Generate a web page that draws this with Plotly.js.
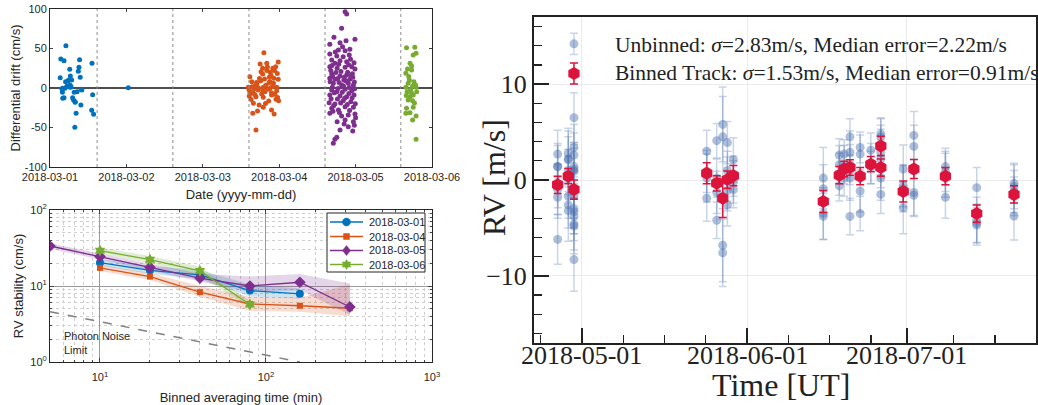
<!DOCTYPE html>
<html><head><meta charset="utf-8">
<script src="https://cdn.plot.ly/plotly-3.0.1.min.js"></script>
<style>body{margin:0;background:#fff}#chart{width:1038px;height:405px}</style>
</head><body><div id="chart"></div>
<script>
// ---------- Panel A: differential drift (hours since 2018-03-01 00:00, cm/s) ----------
const driftStart = Date.UTC(2018, 2, 1);
const night0301H = [5.0,3.4,4.4,9.3,13.2,9.1,8.9,6.2,6.4,3.2,9.5,4.9,5.7,6.8,5.3,6.2,6.6,4.7,3.9,10.0,3.9,7.6,8.5,13.4,4.4,7.1,7.4,7.9,9.7,13.1,13.7,8.2,7.8,3.8,4.0,6.3,6.5,9.8,7.9,5.9,24.6];
const night0301V = [53.6,36.7,34.6,35.8,31.2,26.2,21.1,23.7,15.2,13.0,13.5,8.0,9.2,10.1,2.2,3.8,1.3,-0.4,-0.4,-2.5,-5.5,-5.5,-4.7,-8.5,-12.2,-12.2,-15.2,-18.1,-21.5,-28.2,-33.3,-32.0,-49.7,-1.6,-13.0,0.9,2.5,-1.6,-17.3,10.0,0.3];
const night0304H = [67.2,66.0,68.1,71.7,66.8,70.0,70.5,68.1,62.8,66.8,68.9,71.7,63.4,66.2,69.1,70.2,62.3,64.4,67.0,69.1,71.2,62.8,63.9,65.4,67.5,69.6,71.2,62.6,64.7,67.0,71.0,69.6,63.9,65.7,67.0,63.7,69.6,70.4,64.7,
  65.0,65.8,66.5,67.8,68.5,69.4,70.6,71.4,64.1,63.2,66.3,68.7,70.9,62.5,64.9,67.4,69.9,71.5,65.2,68.3,63.5,66.9,70.3,71.8,64.4,67.7,69.2,62.9,65.5,68.8];
const night0304V = [44.7,30.4,31.3,32.9,25.0,25.0,22.0,22.0,14.3,17.7,13.5,11.0,8.0,9.2,8.0,5.9,0.9,2.5,0.9,-0.4,0.9,-4.7,-6.7,-2.5,-4.7,-5.9,-3.4,-10.1,-11.0,-11.8,-14.3,-8.9,-19.4,-21.5,-24.4,-32.0,-27.8,-32.9,-53.2,
  5.0,12.0,-7.5,3.5,-1.5,16.0,-8.0,18.5,-1.0,-14.5,20.5,-16.5,27.0,-2.0,7.0,11.5,2.0,-12.0,-29.0,26.5,1.5,-3.5,12.5,-16.0,-8.5,-19.5,20.0,-6.5,0.0,6.5];
const night0305H = [92.7,93.2,91.6,89.2,95.8,91.1,93.0,87.9,91.9,90.6,92.7,94.2,87.9,90.1,92.1,94.0,88.5,91.1,93.2,95.5,89.5,87.9,90.2,92.7,94.8,95.8,88.5,91.1,93.2,95.1,89.5,87.9,92.3,94.2,89.0,91.6,93.7,95.3,88.5,90.1,92.7,94.8,87.9,91.1,93.2,95.5,87.7,89.5,92.1,94.5,88.5,90.6,92.7,95.3,87.9,91.6,93.7,95.8,90.2,92.7,95.3,91.1,95.1,93.7,90.1,89.5,89.0,
  88.2,89.8,91.4,93.5,95.0,88.8,90.4,92.5,94.6,88.0,90.8,93.0,95.6,88.7,90.5,92.2,94.0,95.7,89.3,91.8,93.9,88.3,90.3,92.6,94.9,89.1,91.3,93.4,95.9,88.9,90.9,94.1,96.0,92.4,95.6,88.6,90.7,93.8,89.6,94.4];
const night0305V = [96.6,93.7,75.5,64.1,61.6,57.4,59.9,55.3,52.3,48.1,47.2,49.0,43.0,40.5,39.6,41.8,35.4,34.6,33.3,32.0,31.2,27.0,25.0,26.2,27.0,24.0,17.7,15.2,16.5,13.5,11.0,12.3,10.1,11.0,5.9,3.8,5.9,3.8,-2.5,-4.7,-1.6,-3.4,-8.9,-10.1,-11.0,-8.9,-18.6,-20.3,-16.1,-17.3,-25.7,-27.8,-23.7,-24.4,-32.0,-35.4,-34.2,-32.9,-42.7,-40.5,-42.7,-53.2,-54.4,-49.0,-62.4,-64.9,-70.0,
  22.0,19.5,21.0,20.0,18.0,14.5,12.0,14.0,15.5,8.0,7.0,9.0,7.5,1.0,-0.5,2.5,0.5,-1.0,-6.0,-5.5,-7.0,-13.5,-14.0,-13.0,-12.5,-22.5,-19.0,-21.0,-20.0,-29.5,-31.0,-28.5,-37.5,-45.5,-47.0,28.5,30.0,29.5,45.5,36.5];
const night0306H = [112.0,114.6,115.0,114.1,113.1,113.6,111.8,113.6,112.9,114.3,112.5,111.8,113.9,115.0,112.2,113.6,115.2,113.1,114.1,112.5,113.9,112.0,114.1,111.8,113.1,115.0,113.9,115.0,112.7,114.8,113.3,112.3,114.5,111.9];
const night0306V = [51.0,51.5,43.9,41.8,31.2,27.8,18.6,22.8,10.1,8.0,5.9,0.9,2.5,0.9,-4.7,-6.7,-4.7,-11.0,-8.9,-15.2,-16.1,-25.7,-24.4,-32.0,-31.2,-35.4,-40.5,-64.9,14.5,4.0,-2.0,24.0,-19.0,-9.5];
const nightBoundaryH = [14.8, 38.6, 62.5, 86.4, 110.2];
const driftTicks = ['2018-03-01','2018-03-02','2018-03-03','2018-03-04','2018-03-05','2018-03-06'];
const driftYTicks = [-100,-50,0,50,100];

// ---------- Panel B: RV stability vs binning (min, cm/s) ----------
const binT_0301 = [10,20,40,80,160];
const stab_0301 = [20.3,16.1,14.0,8.7,7.9];
const lo_0301 = [18.5,14.5,12.3,7.3,6.8];
const hi_0301 = [22.5,18.3,16.2,10.5,9.3];
const binT_0304 = [10,20,40,80,160,320];
const stab_0304 = [17.3,13.3,8.3,5.8,5.5,5.1];
const lo_0304 = [15.8,12.0,7.2,4.7,4.6,4.0];
const hi_0304 = [19.0,14.8,10.0,7.2,7.0,10.5];
const binT_0305 = [5,10,20,40,80,160,320];
const stab_0305 = [33.6,24.4,17.6,12.7,10.0,11.2,5.3];
const lo_0305 = [31.0,22.2,16.0,11.5,8.3,8.8,4.2];
const hi_0305 = [36.5,27.0,19.8,14.5,13.3,14.4,10.8];
const binT_0306 = [10,20,40,80];
const stab_0306 = [29.2,22.2,15.8,5.7];
const lo_0306 = [26.8,20.0,13.5,5.2];
const hi_0306 = [32.0,24.8,18.0,6.4];
const seriesNames = ['2018-03-01','2018-03-04','2018-03-05','2018-03-06'];
const photonT = [5, 160];
const photonV = [4.6, 1.0];

// ---------- Panel C: RV time series (m/s) ----------
const nightTimes = ['2018-04-26 10:30','2018-04-28 10:30','2018-04-29 12:00','2018-05-24 10:00','2018-05-26 07:00','2018-05-27 10:00','2018-05-28 07:00','2018-05-29 10:00',
  '2018-06-15 07:00','2018-06-18 07:00','2018-06-19 05:00','2018-06-20 07:00','2018-06-22 05:00','2018-06-24 05:00','2018-06-26 02:00','2018-06-30 07:00','2018-07-02 07:00','2018-07-08 05:00','2018-07-14 02:00','2018-07-21 02:00'];
const unbinnedRV = [
  [2.7,1.4,1.4,-0.6,-1.0,-1.8,-6.2],
  [2.8,2.2,2.1,1.0,0.5,-1.7,-2.6,-3.2],
  [14.2,6.5,3.4,2.6,1.4,1.1,0.9,-1.6,-3.0,-3.3,-3.8,-4.6,-4.8,-8.3],
  [3.0,0.9,0.2,-1.9],
  [4.1,0.2,-1.3,-4.2],
  [5.8,4.5,-6.8,-7.6],
  [3.9,1.0,0.1,-1.1,-2.6],
  [2.1,0.4,-0.2,-1.0],
  [0.2,-0.9,-3.5,-3.8],
  [2.6,1.6,0.6,-0.6],
  [2.7,1.6,0.2],
  [4.5,2.9,1.6,0.2,-3.8],
  [3.4,2.7,-1.15,-3.5],
  [3.1,1.7,1.3],
  [4.8,4.5,3.5,2.9,2.2,1.3,0.2,-1.5],
  [1.15,-0.6,-0.9,-2.9],
  [4.65,3.5,-1.3,-1.6],
  [1.4,0.9,0.5,-1.8],
  [-0.8,-4.2,-4.5,-4.7],
  [-0.35,-0.7,-1.2,-1.7,-3.75]];
const unbinnedErr = [
  [2.5,2.4,2.2,2.3,2.6,2.2,2.6],
  [2.6,2.9,2.4,2.2,2.0,2.3,2.4,3.2],
  [1.1,2.6,2.4,2.3,2.5,2.2,2.8,2.4,2.6,2.3,2.5,2.7,2.9,3.3],
  [2.2,2.2,2.5,2.4],
  [1.8,2.0,2.2,1.9],
  [3.9,4.2,3.8,3.5],
  [2.2,2.0,2.3,2.1,2.2],
  [2.3,2.1,2.2,1.9],
  [3.2,2.5,2.7,2.4],
  [1.7,2.0,2.2,1.6],
  [1.5,2.0,1.9],
  [1.9,2.2,2.1,2.3,1.9],
  [1.6,2.0,2.2,1.8],
  [1.8,2.1,1.7],
  [1.6,2.0,2.2,2.4,2.0,2.1,2.3,2.0],
  [2.5,2.2,2.4,2.7],
  [2.5,2.2,2.4,2.2],
  [1.9,2.1,2.3,2.2],
  [2.1,2.4,2.0,2.1],
  [2.1,2.3,2.2,2.0,2.5]];
const binnedTimes = ['2018-04-26 10:30','2018-04-28 10:30','2018-04-29 12:00','2018-04-29 12:00','2018-05-24 10:00','2018-05-26 07:00','2018-05-27 10:00','2018-05-28 07:00','2018-05-29 10:00',
  '2018-06-15 07:00','2018-06-18 07:00','2018-06-19 05:00','2018-06-20 07:00','2018-06-22 05:00','2018-06-24 05:00','2018-06-26 02:00','2018-06-26 02:00','2018-06-30 07:00','2018-07-02 07:00','2018-07-08 05:00','2018-07-14 02:00','2018-07-21 02:00'];
const binnedRV = [-0.5,0.4,11.1,-1.0,0.7,-0.35,-1.9,0.05,0.45,-2.25,0.5,1.15,1.3,0.4,1.65,3.55,1.3,-1.2,1.15,0.4,-3.5,-1.5];
const binnedErr = [0.9,0.8,1.1,1.0,1.1,0.8,2.0,0.9,1.05,1.15,0.9,0.8,0.8,0.9,0.8,1.0,0.9,1.1,1.0,0.9,0.9,0.9];
const timeTicks = ['2018-05-01','2018-06-01','2018-07-01'];

// ---------- build ----------
const W = 1038, H = 405;
const px = v => v / W, py = v => 1 - v / H;
function hToDate(h){ return new Date(driftStart + h*3600e3).toISOString().slice(0,19).replace('T',' '); }
const SANS = 'Liberation Sans, Arial, sans-serif';
const SERIF = 'Liberation Serif, Times New Roman, serif';
const INK = '#262626';
const C = {b:'#0072BD', o:'#D95319', p:'#7E2F8E', g:'#77AC30'};
const traces = [];
[[night0301H,night0301V,C.b],[night0304H,night0304V,C.o],[night0305H,night0305V,C.p],[night0306H,night0306V,C.g]].forEach(([h,v,c])=>{
  traces.push({x:h.map(hToDate), y:v, mode:'markers', type:'scatter', xaxis:'x', yaxis:'y',
    marker:{color:c, size:5}, showlegend:false, hoverinfo:'skip'});
});
function band(xs, lo, hi, rgba){
  return {x: xs.concat(xs.slice().reverse()), y: hi.concat(lo.slice().reverse()), fill:'toself', fillcolor:rgba,
    line:{width:0}, mode:'lines', xaxis:'x2', yaxis:'y2', showlegend:false, hoverinfo:'skip'};
}
traces.push(band(binT_0301, lo_0301, hi_0301, 'rgba(0,114,189,0.2)'));
traces.push(band(binT_0304, lo_0304, hi_0304, 'rgba(217,83,25,0.2)'));
traces.push(band(binT_0305, lo_0305, hi_0305, 'rgba(126,47,142,0.2)'));
traces.push(band(binT_0306, lo_0306, hi_0306, 'rgba(119,172,48,0.22)'));
traces.push({x:photonT, y:photonV, mode:'lines', xaxis:'x2', yaxis:'y2', line:{color:'#808080', width:1.5, dash:'dash'}, showlegend:false, hoverinfo:'skip'});
const stabSeries = [[binT_0301,stab_0301,C.b,'circle',8],[binT_0304,stab_0304,C.o,'square',6],
 [binT_0305,stab_0305,C.p,'diamond',9],[binT_0306,stab_0306,C.g,'hexagram',9]];
stabSeries.forEach(([x,y,c,s,sz],i)=>{
  traces.push({x:x, y:y, name:seriesNames[i], mode:'lines+markers', xaxis:'x2', yaxis:'y2', line:{color:c, width:1.3},
    marker:{color:c, symbol:s, size:sz}, showlegend:false});
});
const ubX = [], ubY = [], ubE = [];
nightTimes.forEach((t,i)=>{ unbinnedRV[i].forEach((v,j)=>{ ubX.push(t); ubY.push(v); ubE.push(unbinnedErr[i][j]); }); });
traces.push({x:ubX, y:ubY, mode:'markers', xaxis:'x3', yaxis:'y3', showlegend:false,
  marker:{color:'rgba(76,114,176,0.45)', size:9},
  error_y:{type:'data', array:ubE, color:'rgba(76,114,176,0.3)', thickness:1.5, width:4}});
traces.push({x:binnedTimes, y:binnedRV, mode:'markers', xaxis:'x3', yaxis:'y3', showlegend:false,
  marker:{color:'#dc143c', size:13, symbol:'hexagon'},
  error_y:{type:'data', array:binnedErr, color:'#dc143c', thickness:1.5, width:4}});

// minor ticks for panel C: quarter of the first major month step
const minC = [];
{ const m0 = Date.UTC(2018,4,1), step = 31*86400e3/4;
  for (let k=-1; k<=11; k++){ if (k%4===0) continue; minC.push(new Date(m0 + k*step).toISOString().slice(0,19).replace('T',' ')); } }

const shapes = nightBoundaryH.map(h=>({type:'line', xref:'x', yref:'y domain', x0:hToDate(h), x1:hToDate(h), y0:0, y1:1,
  line:{color:'#8c8c8c', width:1, dash:'dot'}}));

// custom legend for panel B (matlab-like compact box)
const annotations = [];
shapes.push({type:'rect', xref:'paper', yref:'paper', x0:px(327), x1:px(425), y0:py(272), y1:py(213),
  fillcolor:'#fff', line:{color:INK, width:1}, layer:'above'});
const legRows = [222, 236.5, 250.5, 264.5];
function polyPath(pts){ return 'M' + pts.map(p=>px(p[0])+','+py(p[1])).join('L') + 'Z'; }
stabSeries.forEach(([x,y,c,s],i)=>{
  const cy = legRows[i], cx = 346.5;
  shapes.push({type:'line', xref:'paper', yref:'paper', x0:px(330), x1:px(363), y0:py(cy), y1:py(cy), line:{color:c, width:1.3}, layer:'above'});
  let pts;
  if (s==='circle'){ pts=[]; for(let k=0;k<16;k++){ const a=k*Math.PI/8; pts.push([cx+4*Math.cos(a), cy+4*Math.sin(a)]); } }
  else if (s==='square'){ pts=[[cx-3,cy-3],[cx+3,cy-3],[cx+3,cy+3],[cx-3,cy+3]]; }
  else if (s==='diamond'){ pts=[[cx,cy-5],[cx+4,cy],[cx,cy+5],[cx-4,cy]]; }
  else { pts=[]; for(let k=0;k<12;k++){ const a=-Math.PI/2 + k*Math.PI/6, r=(k%2===0)?5:2.9; pts.push([cx+r*Math.cos(a), cy+r*Math.sin(a)]); } }
  shapes.push({type:'path', xref:'paper', yref:'paper', path:polyPath(pts), fillcolor:c, line:{color:c, width:0.5}, layer:'above'});
  annotations.push({xref:'paper', yref:'paper', x:px(367), y:py(cy), xanchor:'left', yanchor:'middle', showarrow:false,
    text:seriesNames[i], font:{size:11, family:SANS, color:INK}});
});
// date tick labels for panel C (placed close to the axis like the reference)
timeTicks.forEach(d=>annotations.push({xref:'x3', yref:'paper', x:d, y:py(355), xanchor:'center', yanchor:'middle', showarrow:false,
  text:d, font:{size:26, family:SERIF, color:'#222'}}));
annotations.push(
  {xref:'paper', yref:'paper', x:px(62), y:py(343), xanchor:'left', yanchor:'middle', align:'left', showarrow:false,
   text:'Photon Noise<br>Limit', font:{size:11, family:SANS, color:INK}},
  {xref:'paper', yref:'paper', x:px(613), y:py(45), xanchor:'left', yanchor:'middle', showarrow:false,
   text:'Unbinned: <i>σ</i>=2.83m/s, Median error=2.22m/s', font:{size:21.5, family:SERIF, color:'#222'}},
  {xref:'paper', yref:'paper', x:px(613), y:py(73), xanchor:'left', yanchor:'middle', showarrow:false,
   text:'Binned Track: <i>σ</i>=1.53m/s, Median error=0.91m/s', font:{size:21.5, family:SERIF, color:'#222'}},
  {xref:'paper', yref:'paper', x:px(494), y:py(178), xanchor:'center', yanchor:'middle', textangle:-90, showarrow:false,
   text:'RV [m/s]', font:{size:32, family:SERIF, color:'#222'}},
  {xref:'paper', yref:'paper', x:px(781), y:py(385), xanchor:'center', yanchor:'middle', showarrow:false,
   text:'Time [UT]', font:{size:32, family:SERIF, color:'#222'}}
);

const layout = {
  width:W, height:H, margin:{l:0,r:0,t:0,b:0}, paper_bgcolor:'#fff', plot_bgcolor:'rgba(0,0,0,0)',
  font:{family:SANS, size:11, color:INK}, showlegend:false,
  xaxis:{type:'date', domain:[0.04817,0.41618], anchor:'y', range:['2018-03-01','2018-03-06'],
    tickvals:driftTicks, tickformat:'%Y-%m-%d', ticks:'inside', ticklen:3, mirror:'ticks', showline:true, linecolor:INK, linewidth:1,
    showgrid:false, zeroline:false, tickfont:{size:11, family:SANS, color:INK},
    title:{text:'Date (yyyy-mm-dd)', font:{size:13, family:SANS, color:INK}, standoff:7}},
  yaxis:{domain:[0.58765,0.97778], anchor:'x', range:[-100,100], tickvals:driftYTicks, ticktext:driftYTicks.map(String),
    ticks:'inside', ticklen:3, mirror:'ticks', showline:true, linecolor:INK, linewidth:1, showgrid:false,
    zeroline:true, zerolinecolor:'#4d4d4d', zerolinewidth:1.5, tickfont:{size:11, family:SANS, color:INK},
    title:{text:'Differential drift (cm/s)', font:{size:13, family:SANS, color:INK}, standoff:1}},
  xaxis2:{type:'log', domain:[0.04817,0.41618], anchor:'y2', range:[Math.log10(5),3],
    tickvals:[10,100,1000], ticktext:['10<sup>1</sup>','10<sup>2</sup>','10<sup>3</sup>'],
    ticks:'inside', ticklen:4, mirror:'ticks', showline:true, linecolor:INK, linewidth:1, ticklabelstandoff:5,
    showgrid:true, gridcolor:'#9a9a9a', gridwidth:1, zeroline:false, tickfont:{size:11, family:SANS, color:INK},
    minor:{dtick:'D1', ticks:'inside', ticklen:2, showgrid:true, gridcolor:'#cfcfcf', griddash:'dot', gridwidth:1},
    title:{text:'Binned averaging time (min)', font:{size:13, family:SANS, color:INK}, standoff:10}},
  yaxis2:{type:'log', domain:[0.10617,0.48148], anchor:'x2', range:[0,2],
    tickvals:[1,10,100], ticktext:['10<sup>0</sup>','10<sup>1</sup>','10<sup>2</sup>'],
    ticks:'inside', ticklen:4, mirror:'ticks', showline:true, linecolor:INK, linewidth:1,
    showgrid:true, gridcolor:'#9a9a9a', gridwidth:1, zeroline:false, tickfont:{size:11, family:SANS, color:INK},
    minor:{dtick:'D1', ticks:'inside', ticklen:2, showgrid:true, gridcolor:'#cfcfcf', griddash:'dot', gridwidth:1},
    title:{text:'RV stability (cm/s)', font:{size:13, family:SANS, color:INK}, standoff:3}},
  xaxis3:{type:'date', domain:[0.51445,0.99807], anchor:'y3', range:['2018-04-22','2018-07-25 05:00'],
    tickvals:timeTicks, showticklabels:false, ticks:'inside', ticklen:15, tickwidth:1.5, tickcolor:'#222',
    showline:true, linecolor:'#222', linewidth:2, mirror:true, showgrid:true, gridcolor:'#ebebeb', gridwidth:1, zeroline:false,
    minor:{tickvals:minC, ticks:'inside', ticklen:8, tickwidth:1.2, tickcolor:'#222', showgrid:false}},
  yaxis3:{domain:[0.15309,0.95802], anchor:'x3', range:[-17,17], tickvals:[-10,0,10], ticktext:['\u221210','0','10'],
    ticks:'inside', ticklen:15, tickwidth:1.5, tickcolor:'#222', showline:true, linecolor:'#222', linewidth:2, mirror:true,
    showgrid:true, gridcolor:'#ebebeb', gridwidth:1, zeroline:false,
    minor:{tickmode:'linear', tick0:0, dtick:2, ticks:'inside', ticklen:8, tickwidth:1.2, tickcolor:'#222', showgrid:false},
    tickfont:{size:26, family:SERIF, color:'#222'}},
  shapes: shapes,
  annotations: annotations
};
Plotly.newPlot('chart', traces, layout, {displayModeBar:false, staticPlot:true});
</script></body></html>
